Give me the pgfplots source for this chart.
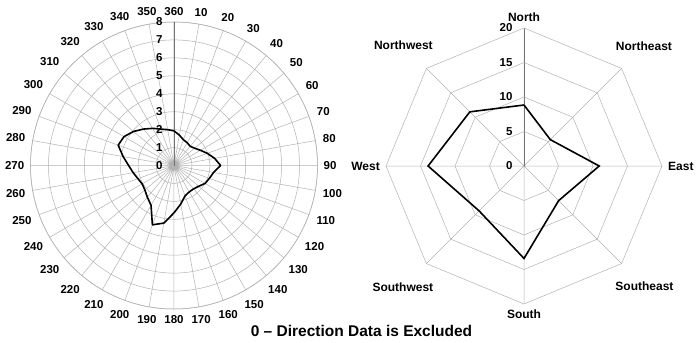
\documentclass[border=0pt]{standalone}
\usepackage{fontspec}
\setmainfont{Liberation Sans}
\usepackage{pgfplots}
\usepackage{pgfplotstable}
\pgfplotsset{compat=1.18}
\usepgfplotslibrary{polar}

\pgfplotstableread{
dir r
0 1.93
10 1.72
20 1.53
30 1.47
40 1.40
50 1.50
60 1.70
70 1.98
80 2.30
90 2.60
100 2.24
110 2.10
120 2.00
130 1.80
140 1.70
150 1.70
160 1.80
170 2.18
180 2.64
190 3.26
200 3.52
210 2.56
220 2.31
230 2.12
240 2.05
250 2.14
260 2.31
270 2.53
280 2.88
290 3.31
300 3.22
310 2.95
320 2.65
330 2.39
340 2.16
350 2.03
360 1.93
}\dirdata

\pgfplotstableread{
dir r
0 8.84
45 5.4
90 10.9
135 7.1
180 13.4
225 9.2
270 13.9
315 11.1
360 8.84
}\radardata

\begin{document}
\begin{tikzpicture}[font=\bfseries]
\useasboundingbox (0,0) rectangle (697pt,343pt);

\begin{polaraxis}[
  at={(174pt,177.5pt)}, anchor=center,
  scale only axis, width=287pt, height=287pt,
  xmin=90, xmax=450, ymin=0, ymax=8,
  xtick={90,100,...,440},
  xticklabels={360,350,340,330,320,310,300,290,280,270,260,250,240,230,220,210,200,190,180,170,160,150,140,130,120,110,100,90,80,70,60,50,40,30,20,10},
  ytick={0,...,8},
  grid=major,
  major grid style={black!30, line width=0.5pt},
  x axis line style={black!30, line width=0.5pt},
  y axis line style={black!55, line width=0.6pt},
  tick style={draw=none},
  tick label style={font=\fontsize{11.5}{12}\selectfont\bfseries},
  xticklabel style={inner sep=6pt},
  yticklabel style={xshift=-8pt},
  /pgf/number format/assume math mode=true,
  clip=false,
]
\addplot[black, line width=1.6pt, line join=round] table[x expr={450-\thisrow{dir}}, y=r] {\dirdata};
\end{polaraxis}

\begin{polaraxis}[
  at={(524pt,177pt)}, anchor=center,
  scale only axis, width=276pt, height=276pt,
  xmin=90, xmax=450, ymin=0, ymax=20,
  xtick={90,135,...,405},
  xticklabels={North,Northwest,West,Southwest,South,Southeast,East,Northeast},
  ytick={0,5,...,20},
  xmajorgrids=true, ymajorgrids=false,
  major grid style={black!30, line width=0.5pt},
  x axis line style={draw=none},
  y axis line style={black!55, line width=0.6pt},
  tick style={draw=none},
  tick label style={font=\fontsize{11.5}{12}\selectfont\bfseries},
  xticklabel style={font=\fontsize{12}{13}\selectfont\bfseries, inner sep=6pt},
  yticklabel style={xshift=-8pt},
  /pgf/number format/assume math mode=true,
  clip=false,
]
\addplot[black!30, line width=0.5pt] coordinates {(90,5)(135,5)(180,5)(225,5)(270,5)(315,5)(360,5)(405,5)(450,5)};
\addplot[black!30, line width=0.5pt] coordinates {(90,10)(135,10)(180,10)(225,10)(270,10)(315,10)(360,10)(405,10)(450,10)};
\addplot[black!30, line width=0.5pt] coordinates {(90,15)(135,15)(180,15)(225,15)(270,15)(315,15)(360,15)(405,15)(450,15)};
\addplot[black!30, line width=0.5pt] coordinates {(90,20)(135,20)(180,20)(225,20)(270,20)(315,20)(360,20)(405,20)(450,20)};
\addplot[black, line width=1.6pt, line join=miter] table[x expr={450-\thisrow{dir}}, y=r] {\radardata};
\end{polaraxis}

\node[font=\fontsize{15.5}{18}\selectfont\bfseries] at (361.5pt,12pt) {0 \textendash{} Direction Data is Excluded};
\end{tikzpicture}
\end{document}
